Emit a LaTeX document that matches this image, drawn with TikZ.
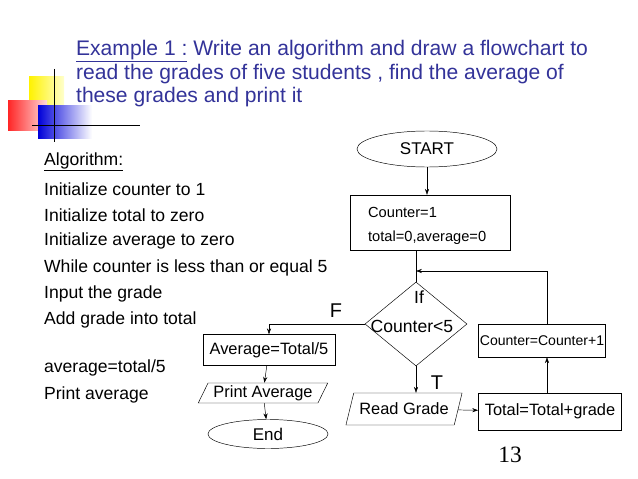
\documentclass[tikz,border=0pt]{standalone}
\usepackage{fontspec}
\setmainfont{Liberation Sans}
\newfontfamily\pagefont{Liberation Serif}
\usepackage{tikz}
\usetikzlibrary{shapes.geometric,arrows.meta}
\definecolor{titleblue}{RGB}{51,51,153}
\tikzset{%
    box/.style={draw,rectangle,inner sep=0pt,font=\fontsize{14}{16}\selectfont},
    io/.style={draw,trapezium,trapezium left angle=60,trapezium right angle=120,trapezium stretches=true,inner sep=0pt,font=\fontsize{14}{16}\selectfont},
    term/.style={draw,ellipse,inner sep=0pt,font=\fontsize{14.5}{16}\selectfont},
    alg/.style={anchor=west,font=\fontsize{15}{17}\selectfont},
    ttl/.style={anchor=west,text=titleblue,font=\fontsize{18}{20}\selectfont},
    arr/.style={-{Stealth[length=5pt,width=3.5pt]}}
}
\begin{document}
\begin{tikzpicture}[x=0.03cm,y=-0.03cm]
        \useasboundingbox (0,0) rectangle (638,479);
        % corner decoration
        \fill[left color=yellow!90!orange,right color=yellow!20] (29,77) rectangle (64,108);
        \fill[left color=red!85,right color=red!15] (8,101) rectangle (47,130);
        \fill[left color=blue!85!black,right color=white] (38,106) rectangle (92,138);
        \draw[thick] (54,69) -- (54,142);
        \draw[thick] (32,125) -- (140,125);
        % title
        \node[ttl] (t1) at (72,51) {\underline{Example 1 :} Write an algorithm and draw a flowchart to};
        \node[ttl] (t2) at (72,74) {read the grades of five students , find the average of};
        \node[ttl] (t3) at (72,97) {these grades and print it};
        % algorithm
        \node[alg] (a0) at (40,162) {\underline{Algorithm:}};
        \node[alg] (a1) at (40,189) {Initialize counter to 1};
        \node[alg] (a2) at (40,215) {Initialize total to zero};
        \node[alg] (a3) at (40,241) {Initialize average to zero};
        \node[alg] (a4) at (40,268) {While counter is less than or equal 5};
        \node[alg] (a5) at (40,294) {Input the grade};
        \node[alg] (a6) at (40,320) {Add grade into total};
        \node[alg] (a7) at (40,368) {average=total/5};
        \node[alg] (a8) at (40,395) {Print average};
        % flowchart
        \node[term,minimum width=4.2cm,minimum height=1.08cm] (start) at (427,149) {START};
        \node[box,minimum width=4.8cm,minimum height=1.65cm] (init) at (430,222.5) {};
        \node[anchor=west,font=\fontsize{12.5}{14}\selectfont] (init1) at (364,212) {Counter=1};
        \node[anchor=west,font=\fontsize{12.5}{14}\selectfont] (init2) at (364,238) {total=0,average=0};
        \node[draw,diamond,minimum width=3.06cm,minimum height=2.52cm,inner sep=0pt] (cond) at (416,324) {};
        \node[font=\fontsize{15}{17}\selectfont] (if) at (419,297) {If};
        \node[font=\fontsize{15}{17}\selectfont] (cnt) at (412,326) {Counter<5};
        \node[font=\fontsize{17}{19}\selectfont] (f) at (336,311) {F};
        \node[font=\fontsize{17}{19}\selectfont] (t) at (437,383) {T};
        \node[box,minimum width=3.96cm,minimum height=0.93cm] (avg) at (269,350) {Average=Total/5};
        \node[io,minimum width=3.9cm,minimum height=0.6cm] (print) at (263,393) {Print Average};
        \node[term,minimum width=3.6cm,minimum height=0.87cm] (end) at (268,434) {End};
        \node[io,minimum width=3.5cm,minimum height=0.96cm] (read) at (404,409) {Read Grade};
        \node[box,minimum width=4.3cm,minimum height=1.11cm] (sum) at (550,411.5) {Total=Total+grade};
        \node[box,minimum width=3.8cm,minimum height=0.99cm,font=\fontsize{12}{14}\selectfont] (inc) at (542,340.5) {Counter=Counter+1};
        \node[font=\pagefont\fontsize{20}{22}\selectfont] (page) at (510,455) {13};
        \coordinate (join) at (cond.north |- 0,271);
        \coordinate (fcorner) at (avg.north |- cond.west);
        \draw[arr] (start) -- (start |- init.north);
        \draw (init.south -| cond.north) -- (cond.north);
        \draw[arr] (inc.north -| 547,0) |- (join);
        \draw[arr] (cond.west) -- (fcorner) -- (avg.north);
        \draw[arr] (avg) -- (print);
        \draw[arr] (print) -- (end);
        \draw[arr] (cond.south) -- (cond.south |- read.north);
        \draw[arr] (read) -- (sum);
        \draw[arr] (sum.north -| 547,0) -- (inc.south -| 547,0);
    \end{tikzpicture}
\end{document}
